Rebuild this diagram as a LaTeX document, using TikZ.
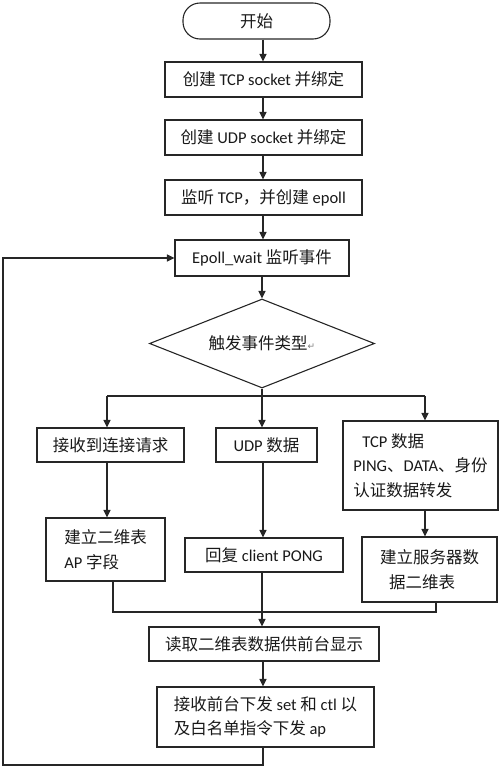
\documentclass[tikz,border=0pt]{standalone}
\usepackage{fontspec}
\setmainfont{Carlito}
\newfontfamily\cjkfont{Noto Sans CJK SC}
\newfontfamily\symfont{DejaVu Sans}
\newcommand\zhtxt[1]{{\cjkfont #1}}
\usetikzlibrary{arrows.meta,shapes.geometric}
\tikzset{
  flowbox/.style={draw=black!85, line width=1.1pt, rectangle, inner sep=0pt, align=left,
    font=\fontsize{16.5}{24.5}\selectfont, text=black!90},
  termbox/.style={flowbox, rounded corners=17pt},
  decbox/.style={draw=black!85, line width=1.1pt, diamond, aspect=2.5, inner sep=0pt,
    font=\fontsize{16.5}{24.5}\selectfont, text=black!90},
  conn/.style={draw=black!85, line width=1.1pt},
  arr/.style={conn, -{Triangle[length=7.5pt,width=7pt]}}
}
\begin{document}
\begin{tikzpicture}[x=1pt,y=-1pt]
\useasboundingbox (0,0) rectangle (500,769);
% main column
\node[termbox, minimum width=147pt, minimum height=36pt] (start) at (256.5,21) {\zhtxt{开始}};
\node[flowbox, minimum width=197pt, minimum height=35pt] (b1) at (263.5,79.5) {\zhtxt{创建} TCP socket \zhtxt{并绑定}};
\node[flowbox, minimum width=197pt, minimum height=35pt] (b2) at (263.5,137.5) {\zhtxt{创建} UDP socket \zhtxt{并绑定}};
\node[flowbox, minimum width=197pt, minimum height=35pt] (b3) at (263.5,197.5) {\zhtxt{监听} TCP\zhtxt{，并创建} epoll};
\node[flowbox, minimum width=174pt, minimum height=36pt] (b4) at (262,258) {Epoll\_wait \zhtxt{监听事件}};
\node[decbox, minimum width=225pt, minimum height=89pt] (dec) at (262,343.5) {\zhtxt{触发事件类型}{\symfont\color{gray}\fontsize{9}{9}\selectfont ↵}};
% branches
\node[flowbox, minimum width=147pt, minimum height=34pt] (l1) at (110.5,445) {\zhtxt{接收到连接请求}};
\node[flowbox, minimum width=101pt, minimum height=34pt] (m1) at (266.5,445) {UDP \zhtxt{数据}};
\node[flowbox, minimum width=155pt, minimum height=89pt] (r1) at (420.5,465.5) {\hspace{9pt}TCP \zhtxt{数据}\\PING\zhtxt{、}DATA\zhtxt{、身份}\\\zhtxt{认证数据转发}};
\node[flowbox, minimum width=119pt, minimum height=63pt] (l2) at (105.5,549.5) {\zhtxt{建立二维表}\\AP \zhtxt{字段}};
\node[flowbox, minimum width=158pt, minimum height=34pt] (m2) at (264,555) {\zhtxt{回复} client PONG};
\node[flowbox, minimum width=135pt, minimum height=65pt] (r2) at (429.5,569.5) {\zhtxt{建立服务器数}\\\hspace{9pt}\zhtxt{据二维表}};
\node[flowbox, minimum width=230pt, minimum height=34pt] (m3) at (264,644) {\zhtxt{读取二维表数据供前台显示}};
\node[flowbox, minimum width=217pt, minimum height=60pt] (m4) at (265.5,717) {\zhtxt{接收前台下发} set \zhtxt{和} ctl \zhtxt{以}\\\zhtxt{及白名单指令下发} ap};
% helper coordinates
\coordinate (xc) at (263,0);
\coordinate (xcm) at (262,0);
\coordinate (xl) at (107,0);
\coordinate (xr) at (425,0);
\coordinate (xlm) at (113,0);
\coordinate (xrm) at (436,0);
\coordinate (ysplit) at (0,396);
\coordinate (ymerge) at (0,612);
\coordinate (yloop) at (0,765);
\coordinate (xloop) at (3,0);
% main arrows
\draw[arr] (start.south -| xc) -- (b1.north -| xc);
\draw[arr] (b1.south -| xc) -- (b2.north -| xc);
\draw[arr] (b2.south -| xc) -- (b3.north -| xc);
\draw[arr] (b3.south -| xc) -- (b4.north -| xc);
\draw[arr] (b4.south -| xcm) -- (dec.north);
% split
\draw[conn] (dec.south) -- (dec.south |- ysplit);
\draw[conn] (xl |- ysplit) -- (xr |- ysplit);
\draw[arr] (xl |- ysplit) -- (l1.north -| xl);
\draw[arr] (xcm |- ysplit) -- (m1.north -| xcm);
\draw[arr] (xr |- ysplit) -- (r1.north -| xr);
% second level
\draw[arr] (l1.south -| xl) -- (l2.north -| xl);
\draw[arr] (m1.south -| xc) -- (m2.north -| xc);
\draw[arr] (r1.south -| xr) -- (r2.north -| xr);
% merge
\draw[conn] (l2.south -| xlm) -- (xlm |- ymerge) -- (xrm |- ymerge) -- (r2.south -| xrm);
\draw[arr] (m2.south -| xcm) -- (m3.north -| xcm);
\draw[arr] (m3.south -| xc) -- (m4.north -| xc);
% loop back
\draw[arr] (m4.south -| xc) -- (xc |- yloop) -- (xloop |- yloop) -- (xloop |- b4.west) -- (b4.west);
\end{tikzpicture}
\end{document}
